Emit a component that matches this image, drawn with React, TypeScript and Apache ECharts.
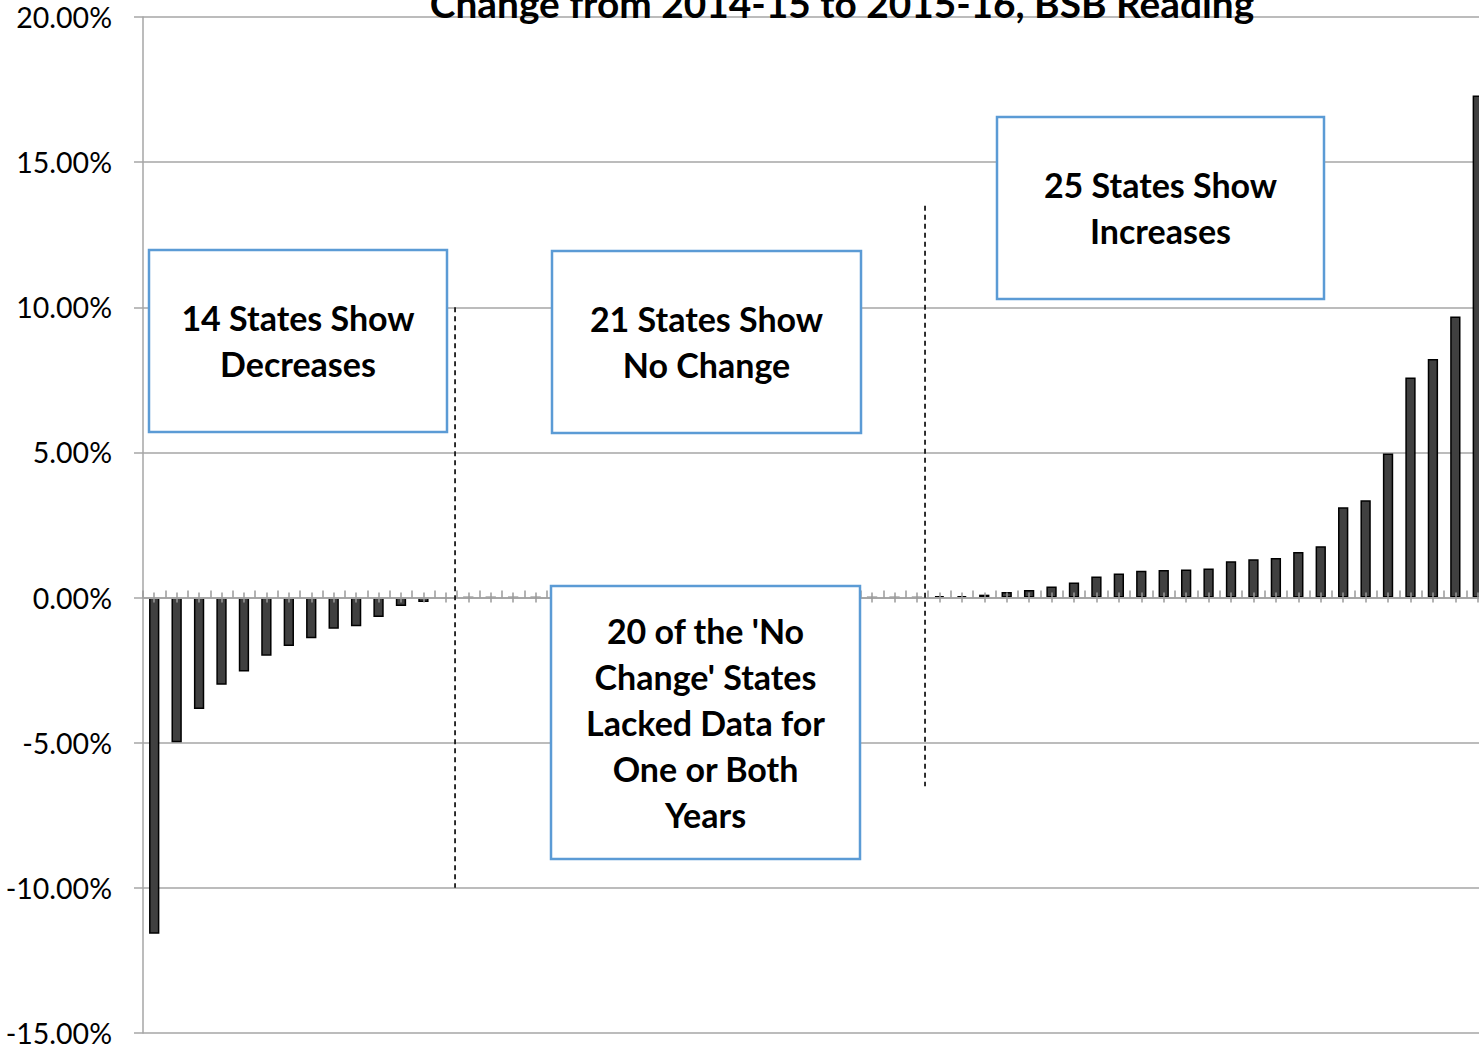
import React, { useEffect, useRef } from "react";
import * as echarts from "echarts";

const titleText = "Change from 2014-15 to 2015-16, BSB Reading";

const categories = [
  "1", "2", "3", "4", "5", "6", "7", "8", "9", "10",
  "11", "12", "13", "14", "15", "16", "17", "18", "19", "20",
  "21", "22", "23", "24", "25", "26", "27", "28", "29", "30",
  "31", "32", "33", "34", "35", "36", "37", "38", "39", "40",
  "41", "42", "43", "44", "45", "46", "47", "48", "49", "50",
  "51", "52", "53", "54", "55", "56", "57", "58", "59", "60",
];

const decreaseValues = [
  -11.58, -4.98, -3.84, -3.0, -2.55, -2.0, -1.67, -1.4, -1.07, -0.99, -0.67, -0.29, -0.15, -0.04,
];
const noChangeValues = [
  0, 0, 0, 0, 0, 0, 0, 0, 0, 0, 0, 0, 0, 0, 0, 0, 0, 0, 0, 0, 0,
];
const increaseValues = [
  0.05, 0.05, 0.1, 0.19, 0.26, 0.38, 0.52, 0.73, 0.83, 0.92, 0.95, 0.97, 1.0,
  1.25, 1.32, 1.36, 1.57, 1.77, 3.11, 3.35, 4.96, 7.58, 8.22, 9.68, 17.3,
];
const changeValues = [...decreaseValues, ...noChangeValues, ...increaseValues];

const yMin = -15;
const yMax = 20;
const yInterval = 5;

// divider lines (hand-placed in the original): [position in category units, top value, bottom value]
const dividerLines = [
  [13.91, 10, -10],
  [34.86, 13.5, -6.5],
];

const boxTexts = [
  "14 States Show\nDecreases",
  "21 States Show\nNo Change",
  "25 States Show\nIncreases",
  "20 of the 'No\nChange' States\nLacked Data for\nOne or Both\nYears",
];

const GRAY = "#A6A6A6";
const BOX_BORDER = "#5B9BD5";

function makeBox(x: number, y: number, w: number, h: number, text: string) {
  return {
    type: "group",
    z: 100,
    children: [
      {
        type: "rect",
        z: 100,
        shape: { x, y, width: w, height: h },
        style: { fill: "#ffffff", stroke: BOX_BORDER, lineWidth: 2.5 },
      },
      {
        type: "text",
        z: 101,
        x: x + w / 2,
        y: y + h / 2 - 0.5,
        style: {
          text,
          fill: "#000000",
          fontFamily: "Lato",
          fontWeight: "bold",
          fontSize: 34,
          lineHeight: 46,
          align: "center",
          verticalAlign: "middle",
        },
      },
    ],
  };
}

export default function App() {
  const ref = useRef<HTMLDivElement>(null);

  useEffect(() => {
    if (!ref.current) return;
    const chart = echarts.init(ref.current, null, { renderer: "svg" });

    const tickAxisBase = {
      type: "category",
      data: categories,
      position: "bottom",
      boundaryGap: true,
      axisLine: { show: true, onZero: true, onZeroAxisIndex: 0, lineStyle: { color: GRAY, width: 1.5 } },
      axisLabel: { show: false },
      splitLine: { show: false },
      z: 3,
    };

    const option: any = {
      animation: false,
      backgroundColor: "#ffffff",
      grid: { left: 143, right: 0, top: 17, bottom: 17, containLabel: false },
      xAxis: [
        {
          ...tickAxisBase,
          axisTick: { show: true, inside: true, length: 7, interval: 0, alignWithLabel: false, lineStyle: { color: "#9A9A9A", width: 1.5 } },
        },
        {
          ...tickAxisBase,
          axisTick: { show: true, inside: true, length: 5, interval: 0, alignWithLabel: true, lineStyle: { color: "#9A9A9A", width: 1.5 } },
        },
        {
          ...tickAxisBase,
          axisTick: { show: true, inside: false, length: 5, interval: 0, alignWithLabel: true, lineStyle: { color: "#9A9A9A", width: 1.5 } },
        },
        { type: "value", min: 0, max: categories.length, show: false, position: "top" },
      ],
      yAxis: {
        type: "value",
        min: yMin,
        max: yMax,
        interval: yInterval,
        axisLine: { show: true, onZero: false, lineStyle: { color: GRAY, width: 1.5 } },
        axisTick: { show: true, length: 9, lineStyle: { color: GRAY, width: 1.5 } },
        axisLabel: {
          formatter: (v: number) => v.toFixed(2) + "%",
          fontFamily: "Lato",
          fontSize: 28.5,
          color: "#000000",
          margin: 31,
        },
        splitLine: { show: true, lineStyle: { color: GRAY, width: 1.5 } },
      },
      series: [
        {
          type: "bar",
          xAxisIndex: 0,
          yAxisIndex: 0,
          data: changeValues,
          barWidth: "46%",
          itemStyle: { color: "#404040", borderColor: "#000000", borderWidth: 1.5 },
          z: 2,
        },
        ...dividerLines.map(([xv, top, bottom]) => ({
          type: "line",
          xAxisIndex: 3,
          yAxisIndex: 0,
          data: [
            [xv, top],
            [xv, bottom],
          ],
          symbol: "none",
          lineStyle: { color: "#1a1a1a", width: 1.8, type: [5, 4] },
          z: 5,
        })),
      ],
      graphic: [
        {
          type: "text",
          z: 100,
          x: 842,
          y: 3,
          style: {
            text: titleText,
            fill: "#000000",
            fontFamily: "Lato",
            fontWeight: "bold",
            fontSize: 38.8,
            align: "center",
            verticalAlign: "middle",
          },
        },
        makeBox(149, 250, 298, 182, boxTexts[0]),
        makeBox(552, 251, 309, 182, boxTexts[1]),
        makeBox(997, 117, 327, 182, boxTexts[2]),
        makeBox(551, 586, 309, 273, boxTexts[3]),
      ],
    };

    chart.setOption(option);
    return () => chart.dispose();
  }, []);

  return (
    <div
      ref={ref}
      style={{ position: "fixed", left: 0, top: 0, width: 1489, height: 1050, background: "#fff" }}
    />
  );
}
